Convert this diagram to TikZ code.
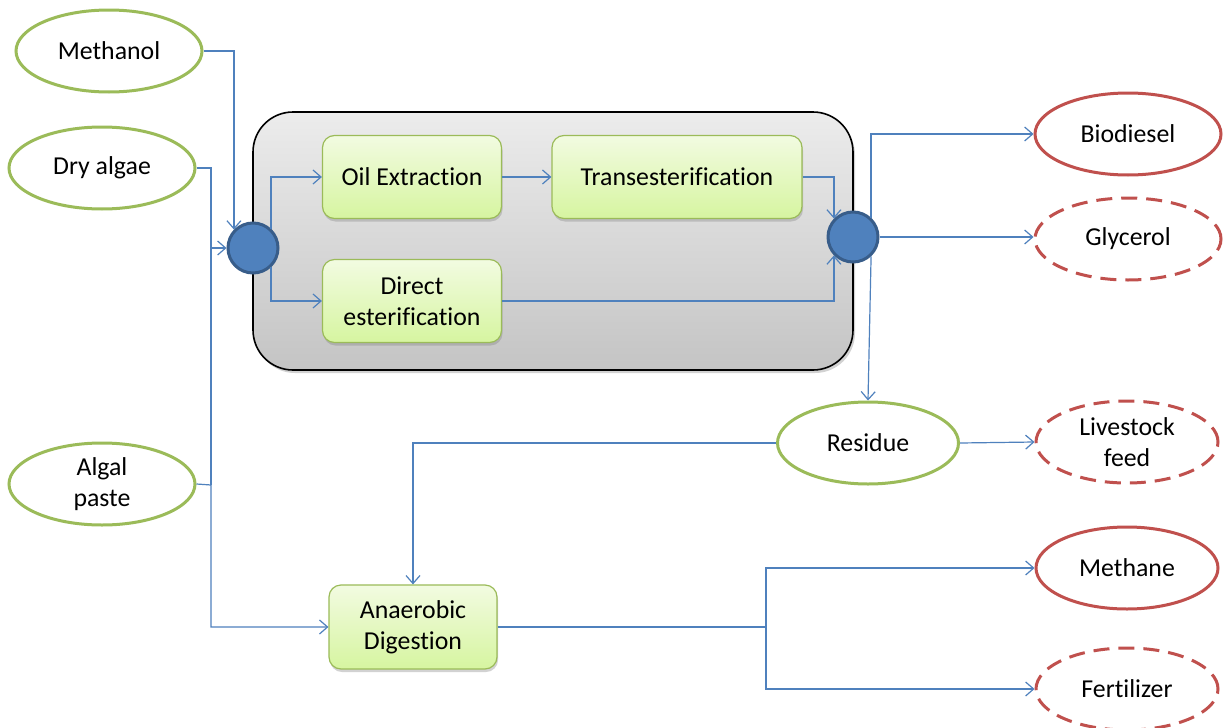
\documentclass[tikz,border=0pt]{standalone}
\usepackage{fontspec}
\setmainfont{Carlito}[Ligatures={NoCommon,NoContextual}]
\usetikzlibrary{shapes.geometric,arrows.meta,shadows,calc}
\definecolor{lnblue}{RGB}{79,129,189}
\definecolor{gring}{RGB}{155,187,89}
\definecolor{redring}{RGB}{192,80,77}
\definecolor{circfill}{RGB}{79,129,189}
\definecolor{circdraw}{RGB}{56,93,138}
\definecolor{boxtop}{RGB}{242,251,225}
\definecolor{boxbot}{RGB}{214,245,160}
\definecolor{paneltop}{RGB}{236,236,236}
\definecolor{panelbot}{RGB}{196,196,196}
\begin{document}
\begin{tikzpicture}[x=0.5pt,y=-0.5pt, font=\fontsize{12.9}{15.6}\selectfont,
  oval/.style={ellipse, minimum width=93pt, minimum height=41pt, inner sep=0pt, line width=1.5pt, fill=white, align=center},
  inoval/.style={oval, draw=gring},
  outoval/.style={oval, draw=redring},
  dashoval/.style={outoval, dash pattern=on 8pt off 4.5pt},
  procbox/.style={rounded corners=6pt, draw=gring, line width=0.6pt, top color=boxtop, bottom color=boxbot, minimum width=89.5pt, minimum height=41.5pt, inner sep=2pt, align=center, drop shadow={shadow xshift=0.5pt, shadow yshift=-1.5pt, opacity=0.35}},
  panel/.style={rounded corners=20pt, draw=black, line width=0.8pt, top color=paneltop, bottom color=panelbot, minimum width=300pt, minimum height=129pt, drop shadow={shadow xshift=1pt, shadow yshift=-1.5pt, opacity=0.35}},
  hub/.style={circle, fill=circfill, draw=circdraw, line width=1.5pt, minimum size=25pt, inner sep=0pt},
  flow/.style={draw=lnblue, line width=0.6pt, -{Straight Barb[length=4pt,width=7pt]}},
  wire/.style={draw=lnblue, line width=0.6pt}
]
\useasboundingbox (0,0) rectangle (1226,728);
\fill[white] (0,0) rectangle (1226,728);

\node[panel] (panel) at (553,241) {};

\node[inoval] (methanol) at (109,51) {Methanol};
\node[inoval] (dry) at (102,168) {Dry algae};
\node[inoval] (algal) at (102,484) {Algal\\paste};

\node[hub] (hubL) at (253,248) {};
\node[hub] (hubR) at (853,237) {};

\node[procbox] (oil) at (412,177) {Oil Extraction};
\node[procbox, minimum width=125pt] (trans) at (677,177) {Transesterification};
\node[procbox] (direct) at (412,301) {Direct\\esterification};
\node[procbox, minimum width=84pt, minimum height=42pt] (anaer) at (413,627) {Anaerobic\\Digestion};

\node[outoval] (biodiesel) at (1128,134) {Biodiesel};
\node[dashoval] (glycerol) at (1128,239) {Glycerol};
\node[inoval, minimum width=90.5pt] (residue) at (868,443) {Residue};
\node[dashoval, minimum width=91pt] (livestock) at (1127,442) {Livestock\\feed};
\node[outoval, minimum width=91pt] (methane) at (1127,568) {Methane};
\node[dashoval, minimum width=91pt] (fertilizer) at (1127,689) {Fertilizer};

\coordinate (jA) at (211,248);
\coordinate (jB) at (211,485);
\coordinate (jC) at (766,627);

\draw[flow] (methanol.east) -| (hubL.136);
\draw[flow] (dry.east) -| (jA) -- (hubL.west);
\draw[wire] (jA) -- (jB);
\draw[flow] (algal.east) -- (jB) |- (anaer.west);

\draw[flow] (hubL.47) |- (oil.west);
\draw[flow] (hubL.-47) |- (direct.west);
\draw[flow] (oil.east) -- (trans.west);
\draw[flow] (trans.east) -| (hubR.136);
\draw[flow] (direct.east) -| (hubR.224);

\draw[flow] (hubR.47) |- (biodiesel.west);
\draw[flow] (hubR.east) -- (hubR.east -| glycerol.west);
\draw[flow] (hubR.-47) -- (residue.north);
\draw[flow] (residue.east) -- (livestock.west);
\draw[flow] (residue.west) -| (anaer.north);

\draw[wire] (anaer.east) -- (jC);
\draw[flow] (jC) |- (methane.west);
\draw[flow] (jC) |- (fertilizer.west);
\end{tikzpicture}
\end{document}
